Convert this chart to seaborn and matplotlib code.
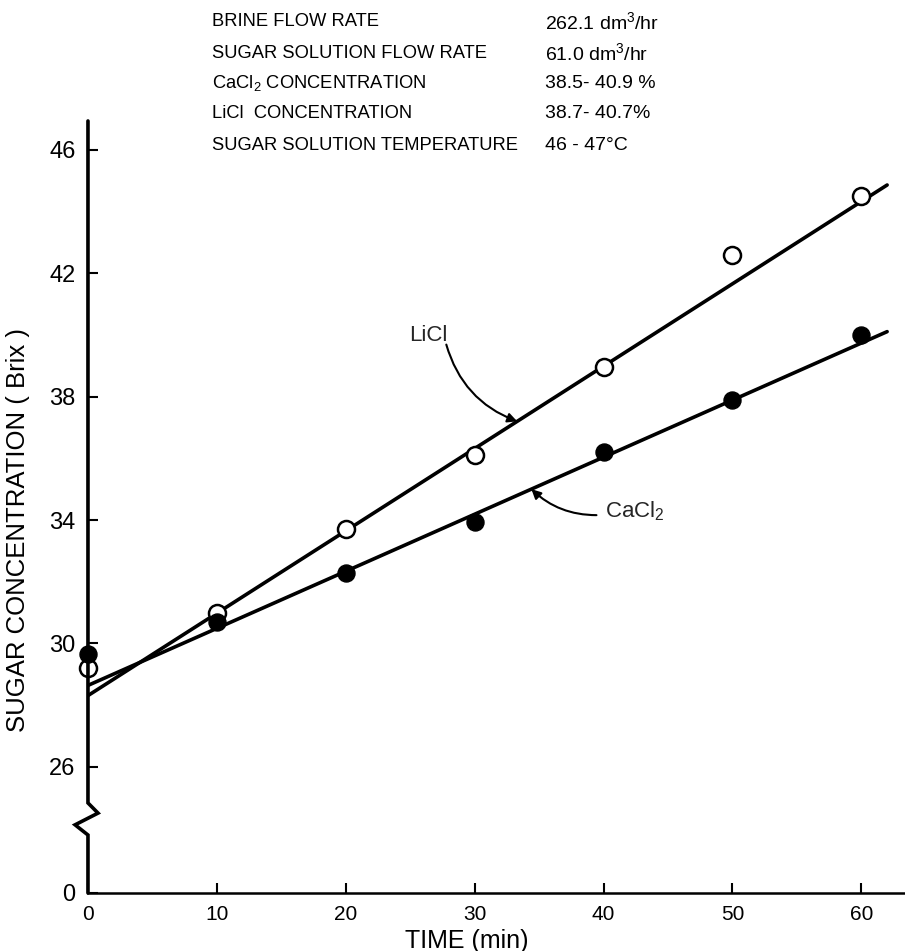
import numpy as np
import pandas as pd
import matplotlib
matplotlib.use("Agg")
import matplotlib.pyplot as plt
from matplotlib import font_manager
import seaborn as sns

# ---- measurements -------------------------------------------------------
time_min = [0, 10, 20, 30, 40, 50, 60]
licl_brix = [29.2, 31.0, 33.7, 36.1, 38.95, 42.6, 44.5]
cacl2_brix = [29.65, 30.7, 32.3, 33.95, 36.2, 37.9, 40.0]

# straight-line fits: intercept, slope (Brix, Brix/min)
licl_fit = [28.31, 0.267]
cacl2_fit = [28.64, 0.185]
fit_span = [0, 62]

x_ticks = [0, 10, 20, 30, 40, 50, 60]
y_ticks = [26, 30, 34, 38, 42, 46]
y_floor = 21.91          # where the broken axis reads 0

condition_names = [
    "BRINE FLOW RATE",
    "SUGAR SOLUTION FLOW RATE",
    "CaCl$_2$ CONCENTRATION",
    "LiCl  CONCENTRATION",
    "SUGAR SOLUTION TEMPERATURE",
]
condition_values = [
    "262.1 dm$^3$/hr",
    "61.0 dm$^3$/hr",
    "38.5- 40.9 %",
    "38.7- 40.7%",
    "46 - 47°C",
]

# ---- style --------------------------------------------------------------
sns.set_style("ticks")


def pick_font(*names):
    for n in names:
        try:
            font_manager.findfont(n, fallback_to_default=False)
            return n
        except Exception:
            continue
    return "DejaVu Sans"


base_font = pick_font("Liberation Sans", "DejaVu Sans")

plt.rcParams["font.family"] = [base_font, "DejaVu Sans"]
plt.rcParams["mathtext.fontset"] = "custom"
plt.rcParams["mathtext.rm"] = base_font
plt.rcParams["mathtext.it"] = base_font + ":italic"
plt.rcParams["mathtext.bf"] = base_font + ":bold"

fig = plt.figure(figsize=(9.05, 9.51), dpi=100)
ax = fig.add_axes([0.0972, 0.061, 0.903, 0.8118])

# ---- data frames --------------------------------------------------------
points = pd.DataFrame({
    "time": time_min * 2,
    "brix": licl_brix + cacl2_brix,
    "salt": ["LiCl"] * len(time_min) + ["CaCl2"] * len(time_min),
})
span = np.array(fit_span, dtype=float)
fits = pd.DataFrame({
    "time": np.concatenate([span, span]),
    "brix": np.concatenate([licl_fit[0] + licl_fit[1] * span,
                            cacl2_fit[0] + cacl2_fit[1] * span]),
    "salt": ["LiCl"] * 2 + ["CaCl2"] * 2,
})

# fitted lines
sns.lineplot(data=fits, x="time", y="brix", units="salt", estimator=None,
             color="black", lw=2.6, ax=ax, zorder=2, legend=False)

# measured points
sns.scatterplot(data=points[points.salt == "LiCl"], x="time", y="brix",
                marker="o", s=150, facecolor="white", edgecolor="black",
                linewidth=1.8, ax=ax, zorder=4, clip_on=False, legend=False)
sns.scatterplot(data=points[points.salt == "CaCl2"], x="time", y="brix",
                marker="o", s=150, color="black", edgecolor="black",
                linewidth=1.0, ax=ax, zorder=4, clip_on=False, legend=False)

# ---- axes ---------------------------------------------------------------
ax.set_xlim(0, 63.4)
ax.set_ylim(y_floor, 46.94)
ax.set_xticks(x_ticks)
ax.set_xticklabels([str(t) for t in x_ticks])
ax.set_yticks([y_floor] + y_ticks)
ax.set_yticklabels(["0"] + [str(t) for t in y_ticks])
ax.tick_params(axis="both", direction="in", length=7, width=1.5, color="black")
ax.tick_params(axis="x", labelsize=15, pad=9)
ax.tick_params(axis="y", labelsize=17, pad=9)
for lab in ax.get_xticklabels() + ax.get_yticklabels():
    lab.set_color("black")

for side in ("top", "right", "left"):
    ax.spines[side].set_visible(False)
ax.spines["bottom"].set_linewidth(1.8)
ax.spines["bottom"].set_color("black")

# left axis with the break symbol
spine_x = [0, 0, 0.78, -1.0, 0, 0]
spine_y = [46.94, 24.83, 24.5, 24.12, 23.79, y_floor]
ax.plot(spine_x, spine_y, color="black", lw=2.6, clip_on=False, zorder=5,
        solid_joinstyle="miter")

ax.set_xlabel("TIME (min)", fontsize=18, color="black")
ax.xaxis.set_label_coords(0.463, -0.062)
ax.xaxis.label.set_va("center")
ax.set_ylabel("SUGAR CONCENTRATION ( Brix )", fontsize=18.5, color="black")
ax.yaxis.set_label_coords(-0.086, 0.47)
ax.yaxis.label.set_va("center")

# ---- curve labels -------------------------------------------------------
arrow_kw = dict(arrowstyle="-|>", color="black", lw=1.5, mutation_scale=14,
                shrinkA=0, shrinkB=0)

licl_x = 33.3
ax.text(26.4, 40.0, "LiCl", fontsize=16, ha="center", va="center")
ax.annotate("", xy=(licl_x, licl_fit[0] + licl_fit[1] * licl_x),
            xytext=(27.8, 39.69),
            arrowprops=dict(connectionstyle="arc3,rad=0.25", **arrow_kw))

cacl2_x = 34.4
ax.text(40.1, 34.3, "CaCl$_2$", fontsize=16, ha="left", va="center")
ax.annotate("", xy=(cacl2_x, cacl2_fit[0] + cacl2_fit[1] * cacl2_x),
            xytext=(39.45, 34.16),
            arrowprops=dict(connectionstyle="arc3,rad=-0.2", **arrow_kw))

# ---- run conditions -----------------------------------------------------
row_px = [22, 53, 83, 113, 145]
for name, value, ypx in zip(condition_names, condition_values, row_px):
    yf = 1 - ypx / 951
    fig.text(212 / 905, yf, name, fontsize=13.2,
             ha="left", va="center", color="black")
    fig.text(545 / 905, yf, value, fontsize=14,
             ha="left", va="center", color="black")

fig.savefig("out.png", dpi=100, facecolor="white")
